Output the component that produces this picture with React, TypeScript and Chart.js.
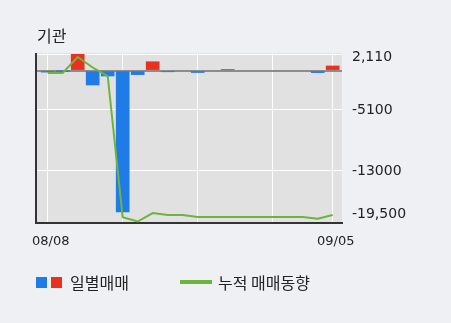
import React, { useEffect, useRef } from 'react';
import { Chart, registerables } from 'chart.js';

Chart.register(...registerables);

// ---- data ----
const dates = ['08/08', '08/09', '08/12', '08/13', '08/14', '08/16', '08/19', '08/20', '08/21', '08/22',
  '08/23', '08/26', '08/27', '08/28', '08/29', '08/30', '09/02', '09/03', '09/04', '09/05'];
const dailyNet = [-200, -30, 2110, -1860, -700, -18300, -520, 1150, -150, 0,
  -250, 0, 150, 0, 0, 0, 0, 0, -260, 600];
const cumulative = [-300, -300, 1760, 400, -700, -19000, -19550, -18450, -18700, -18700,
  -18950, -18950, -18950, -18950, -18950, -18950, -18950, -18950, -19200, -18700];
const yTickValues = [2110, 0, -5100, -13000, -19500];
const yTickLabels = ['2,110', '', '-5100', '-13000', '-19,500'];
const xGridIndices = [0, 5, 10, 15, 19];
const xLabelIndices = [0, 19];

const BLUE = '#1f7ce6';
const RED = '#e8321f';
const GREEN = '#6cb43c';
const PAGE_BG = '#eef0f4';
const PLOT_BG = '#e1e1e1';

const plotBg = {
  id: 'plotBg',
  beforeDraw(chart: any) {
    const { ctx, chartArea: a } = chart;
    ctx.save();
    ctx.fillStyle = PLOT_BG;
    ctx.fillRect(a.left, a.top, a.right - a.left, a.bottom - a.top);
    ctx.restore();
  },
  afterDraw(chart: any) {
    const { ctx, chartArea: a } = chart;
    ctx.save();
    ctx.strokeStyle = '#333';
    ctx.lineWidth = 2;
    ctx.beginPath();
    ctx.moveTo(a.left - 1, a.top);
    ctx.lineTo(a.left - 1, a.bottom + 1);
    ctx.stroke();
    ctx.restore();
  },
};

export default function App() {
  const ref = useRef<HTMLCanvasElement>(null);

  useEffect(() => {
    if (!ref.current) return;
    const chart = new Chart(ref.current, {
      type: 'bar',
      data: {
        datasets: [
          {
            type: 'line',
            data: cumulative.map((v, i) => ({ x: i, y: v })),
            borderColor: GREEN,
            borderWidth: 2,
            pointRadius: 0,
            tension: 0,
            order: 0,
          } as any,
          {
            type: 'bar',
            data: dailyNet.map((v, i) => ({ x: i, y: v })),
            backgroundColor: (c: any) => {
              const y = c.raw ? c.raw.y : 0;
              if (y === 0) return 'rgba(0,0,0,0)';
              return y < 0 ? BLUE : RED;
            },
            barThickness: 13,
            borderWidth: 0,
            order: 1,
          } as any,
        ],
      },
      options: {
        animation: false,
        responsive: false,
        events: [],
        layout: { padding: { left: 37, top: 53, right: 0, bottom: 0 } },
        plugins: { legend: { display: false }, tooltip: { enabled: false } },
        scales: {
          x: {
            type: 'linear',
            offset: false,
            min: -0.713,
            max: 19.62,
            afterBuildTicks: (s: any) => { s.ticks = xGridIndices.map((v) => ({ value: v })); },
            afterFit: (s: any) => { s.height = 100; },
            grid: { color: '#ffffff', lineWidth: 1, drawTicks: false, offset: false },
            border: { display: true, color: '#333', width: 2 },
            ticks: {
              autoSkip: false,
              maxRotation: 0,
              padding: 11,
              labelOffset: 3,
              color: '#222',
              font: { family: '"DejaVu Sans", sans-serif', size: 13 },
              callback: (v: any) => (xLabelIndices.includes(v) ? dates[v] : ''),
            },
          },
          y: {
            type: 'linear',
            position: 'right',
            min: -19740,
            max: 2280,
            afterBuildTicks: (s: any) => { s.ticks = yTickValues.map((v) => ({ value: v })); },
            afterFit: (s: any) => { s.width = 109; },
            grid: {
              drawTicks: false,
              color: (c: any) => (c.tick && c.tick.value === 0 ? '#8c8c8c'
                : (c.tick && c.tick.value === yTickValues[yTickValues.length - 1] ? 'rgba(0,0,0,0)' : '#ffffff')),
              lineWidth: (c: any) => (c.tick && c.tick.value === 0 ? 2 : 1),
            },
            border: { display: false },
            ticks: {
              autoSkip: false,
              padding: 10,
              color: '#222',
              font: { family: '"DejaVu Sans", sans-serif', size: 14, lineHeight: '7px' },
              callback: (_v: any, i: number) => {
                const t = yTickLabels[i];
                if (i === 0) return ['', t];
                if (i === yTickLabels.length - 1) return [t, '', ''];
                return t;
              },
            },
          },
        },
      },
      plugins: [plotBg],
    });
    return () => chart.destroy();
  }, []);

  const kr = '"Noto Sans CJK KR", sans-serif';
  return (
    <div style={{ position: 'fixed', left: 0, top: 0, width: 451, height: 323, background: PAGE_BG, overflow: 'hidden' }}>
      <canvas ref={ref} width={451} height={323} style={{ position: 'absolute', left: 0, top: 0, width: 451, height: 323 }} />
      <div style={{ position: 'absolute', left: 37, top: 24, fontFamily: kr, fontSize: 16, lineHeight: '22px', color: '#222' }}>기관</div>
      <div style={{ position: 'absolute', left: 36, top: 277, width: 11, height: 11, background: BLUE }} />
      <div style={{ position: 'absolute', left: 51, top: 277, width: 11, height: 11, background: RED }} />
      <div style={{ position: 'absolute', left: 70, top: 271, fontFamily: kr, fontSize: 16, lineHeight: '22px', color: '#222' }}>일별매매</div>
      <div style={{ position: 'absolute', left: 180, top: 280, width: 32, height: 4, background: GREEN }} />
      <div style={{ position: 'absolute', left: 218, top: 271, fontFamily: kr, fontSize: 16, lineHeight: '22px', color: '#222' }}>누적 매매동향</div>
    </div>
  );
}
